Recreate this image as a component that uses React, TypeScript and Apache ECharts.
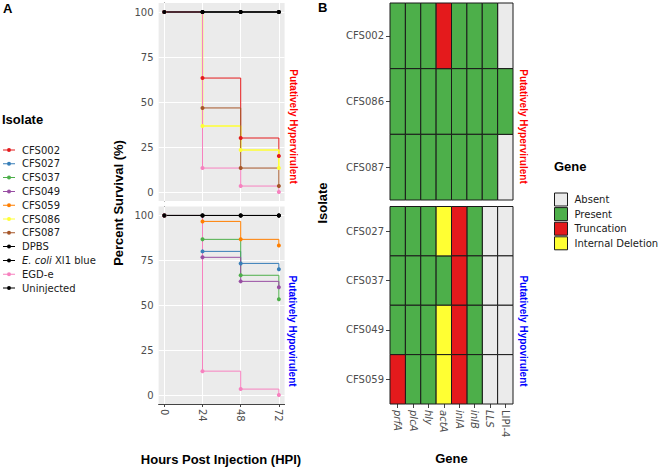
import React, { useEffect, useRef } from 'react';
import * as echarts from 'echarts';

// ---------- Panel A: survival data ----------
const hours = [0, 24, 48, 72];
const hourTicks = [0, 24, 48, 72];
const survivalTicks = [0, 25, 50, 75, 100];

const isolateNames = [
  'CFS002', 'CFS027', 'CFS037', 'CFS049', 'CFS059', 'CFS086', 'CFS087',
  'DPBS', 'E. coli Xl1 blue', 'EGD-e', 'Uninjected',
];
const isolateColors = [
  '#E41A1C', '#377EB8', '#4DAF4A', '#984EA3', '#FF7F00', '#FFFF33', '#A65628',
  '#000000', '#000000', '#F781BF', '#000000',
];

const survCFS002 = [100, 63.3, 30, 20];
const survCFS027 = [100, 80, 73.3, 70];
const survCFS037 = [100, 86.7, 66.7, 53.3];
const survCFS049 = [100, 76.7, 63.3, 60];
const survCFS059 = [100, 96.7, 86.7, 83.3];
const survCFS086 = [100, 36.7, 23.3, 13.3];
const survCFS087 = [100, 46.7, 13.3, 3.3];
const survDPBS = [100, 100, 100, 100];
const survEcoli = [100, 100, 100, 100];
const survEGDe = [100, 13.3, 3.3, 0];
const survUninjected = [100, 100, 100, 100];

const hyperSurvivalMembers = ['CFS002', 'CFS086', 'CFS087', 'DPBS', 'E. coli Xl1 blue', 'EGD-e', 'Uninjected'];
const hypoSurvivalMembers = ['CFS027', 'CFS037', 'CFS049', 'CFS059', 'DPBS', 'E. coli Xl1 blue', 'EGD-e', 'Uninjected'];

// ---------- Panel B: gene status ----------
const genes = ['prfA', 'plcA', 'hly', 'actA', 'inlA', 'inlB', 'LLS', 'LIPI-4'];
const states = ['Absent', 'Present', 'Truncation', 'Internal Deletion'];
const stateColors = ['#EBEBEB', '#4DAF4A', '#E41A1C', '#FFFF33'];

const hyperGeneIsolates = ['CFS002', 'CFS086', 'CFS087'];
const hypoGeneIsolates = ['CFS027', 'CFS037', 'CFS049', 'CFS059'];

const genesCFS002 = ['Present', 'Present', 'Present', 'Truncation', 'Present', 'Present', 'Present', 'Absent'];
const genesCFS086 = ['Present', 'Present', 'Present', 'Present', 'Present', 'Present', 'Present', 'Present'];
const genesCFS087 = ['Present', 'Present', 'Present', 'Present', 'Present', 'Present', 'Present', 'Absent'];
const genesCFS027 = ['Present', 'Present', 'Present', 'Internal Deletion', 'Truncation', 'Present', 'Absent', 'Absent'];
const genesCFS037 = ['Present', 'Present', 'Present', 'Present', 'Truncation', 'Present', 'Absent', 'Absent'];
const genesCFS049 = ['Present', 'Present', 'Present', 'Internal Deletion', 'Truncation', 'Present', 'Absent', 'Absent'];
const genesCFS059 = ['Truncation', 'Present', 'Present', 'Internal Deletion', 'Truncation', 'Present', 'Absent', 'Absent'];

const survivalOf: Record<string, number[]> = {
  CFS002: survCFS002, CFS027: survCFS027, CFS037: survCFS037, CFS049: survCFS049,
  CFS059: survCFS059, CFS086: survCFS086, CFS087: survCFS087, DPBS: survDPBS,
  'E. coli Xl1 blue': survEcoli, 'EGD-e': survEGDe, Uninjected: survUninjected,
};
const genesOf: Record<string, string[]> = {
  CFS002: genesCFS002, CFS086: genesCFS086, CFS087: genesCFS087,
  CFS027: genesCFS027, CFS037: genesCFS037, CFS049: genesCFS049, CFS059: genesCFS059,
};

const TICK_FONT = 'DejaVu Sans';
const TITLE_FONT = 'Liberation Sans';
const TICK_COLOR = '#4D4D4D';
const AXIS_COLOR = '#444444';

export default function App() {
  const ref = useRef<HTMLDivElement>(null);

  useEffect(() => {
    if (!ref.current) return;
    const chart = echarts.init(ref.current, undefined, { renderer: 'svg' });

    const series: any[] = [];

    // gridline helper series (white lines on grey panel)
    [0, 1].forEach((g) => {
      series.push({
        type: 'line',
        name: '__grid' + g,
        xAxisIndex: g,
        yAxisIndex: g,
        data: [],
        silent: true,
        markLine: {
          silent: true,
          z: 1,
          symbol: ['none', 'none'],
          label: { show: false },
          lineStyle: { color: '#FFFFFF', width: 1, type: 'solid' },
          emphasis: { disabled: true },
          data: [
            ...survivalTicks.map((v) => ({ yAxis: v })),
            ...hourTicks.map((v) => ({ xAxis: v })),
          ],
        },
      });
    });

    const panels = [hyperSurvivalMembers, hypoSurvivalMembers];
    panels.forEach((members, g) => {
      isolateNames.forEach((name, i) => {
        if (members.indexOf(name) < 0) return;
        const vals = survivalOf[name];
        series.push({
          type: 'line',
          name,
          xAxisIndex: g,
          yAxisIndex: g,
          step: 'end',
          symbol: 'circle',
          symbolSize: 4,
          showSymbol: true,
          silent: true,
          z: 2,
          lineStyle: { color: isolateColors[i], width: name === 'CFS086' ? 1.6 : 1 },
          itemStyle: { color: isolateColors[i], borderWidth: 0 },
          data: hours.map((h, k) => [h, vals[k]]),
        });
      });
    });

    // heatmap cells via custom series, one per state per panel
    const genePanels = [hyperGeneIsolates, hypoGeneIsolates];
    genePanels.forEach((isos, p) => {
      states.forEach((st, si) => {
        const data: number[][] = [];
        isos.forEach((iso, yi) => {
          genesOf[iso].forEach((s, gi) => {
            if (s === st) data.push([gi, yi]);
          });
        });
        series.push({
          type: 'custom',
          name: st,
          xAxisIndex: 2 + p,
          yAxisIndex: 2 + p,
          silent: true,
          encode: { x: 0, y: 1 },
          itemStyle: { color: stateColors[si] },
          data,
          renderItem: (params: any, api: any) => {
            const c = api.coord([api.value(0), api.value(1)]);
            const s = api.size([1, 1]);
            return {
              type: 'rect',
              shape: { x: c[0] - s[0] / 2, y: c[1] - s[1] / 2, width: s[0], height: s[1] },
              style: { fill: stateColors[si], stroke: '#1A1A1A', lineWidth: 1 },
            };
          },
        });
      });
    });

    const valueYAxis = (g: number) => ({
      type: 'value',
      gridIndex: g,
      min: -5,
      max: 105,
      axisLine: { show: true, lineStyle: { color: AXIS_COLOR, width: 1 } },
      axisTick: { show: true, customValues: survivalTicks, length: 3, lineStyle: { color: AXIS_COLOR } },
      axisLabel: {
        show: true, customValues: survivalTicks, margin: 5,
        fontFamily: TICK_FONT, fontSize: 10, color: TICK_COLOR,
      },
      splitLine: { show: false },
    });

    const option: any = {
      animation: false,
      backgroundColor: '#FFFFFF',
      grid: [
        { left: 158.6, top: 3, width: 126, height: 198, show: true, backgroundColor: '#EBEBEB', borderWidth: 0, outerBoundsMode: 'none' },
        { left: 158.6, top: 206.5, width: 126, height: 197.5, show: true, backgroundColor: '#EBEBEB', borderWidth: 0, outerBoundsMode: 'none' },
        { left: 390, top: 3, width: 123, height: 197, outerBoundsMode: 'none' },
        { left: 390, top: 206.5, width: 123, height: 197.5, outerBoundsMode: 'none' },
      ],
      xAxis: [
        {
          type: 'value', gridIndex: 0, min: -3.6, max: 75.6,
          axisLine: { show: false }, axisTick: { show: false }, axisLabel: { show: false }, splitLine: { show: false },
        },
        {
          type: 'value', gridIndex: 1, min: -3.6, max: 75.6,
          axisLine: { show: true, onZero: false, lineStyle: { color: AXIS_COLOR, width: 1 } },
          axisTick: { show: true, customValues: hourTicks, length: 3, lineStyle: { color: AXIS_COLOR } },
          axisLabel: {
            show: true, customValues: hourTicks, rotate: -90, margin: 5,
            fontFamily: TICK_FONT, fontSize: 10, color: TICK_COLOR,
          },
          splitLine: { show: false },
        },
        {
          type: 'category', gridIndex: 2, data: genes,
          axisLine: { show: false }, axisTick: { show: false }, axisLabel: { show: false }, splitLine: { show: false },
        },
        {
          type: 'category', gridIndex: 3, data: genes,
          axisLine: { show: false },
          axisTick: { show: true, alignWithLabel: true, length: 4, lineStyle: { color: AXIS_COLOR } },
          axisLabel: {
            show: true, rotate: -90, margin: 6, interval: 0,
            fontFamily: TICK_FONT, fontSize: 10, color: TICK_COLOR,
            formatter: (v: string) => (v === 'LIPI-4' ? `{n|${v}}` : `{i|${v}}`),
            rich: {
              i: { fontStyle: 'italic', fontFamily: TICK_FONT, fontSize: 10, color: TICK_COLOR },
              n: { fontStyle: 'normal', fontFamily: TICK_FONT, fontSize: 10, color: TICK_COLOR },
            },
          },
          splitLine: { show: false },
        },
      ],
      yAxis: [
        valueYAxis(0),
        valueYAxis(1),
        {
          type: 'category', gridIndex: 2, data: hyperGeneIsolates, inverse: true,
          axisLine: { show: false },
          axisTick: { show: true, alignWithLabel: true, length: 4, lineStyle: { color: AXIS_COLOR } },
          axisLabel: { show: true, margin: 6, fontFamily: TICK_FONT, fontSize: 10, color: TICK_COLOR },
          splitLine: { show: false },
        },
        {
          type: 'category', gridIndex: 3, data: hypoGeneIsolates, inverse: true,
          axisLine: { show: false },
          axisTick: { show: true, alignWithLabel: true, length: 4, lineStyle: { color: AXIS_COLOR } },
          axisLabel: { show: true, margin: 6, fontFamily: TICK_FONT, fontSize: 10, color: TICK_COLOR },
          splitLine: { show: false },
        },
      ],
      legend: [
        {
          data: isolateNames,
          orient: 'vertical',
          left: 3,
          top: 144,
          padding: 0,
          itemWidth: 12,
          itemHeight: 4,
          itemGap: 1.8,
          selectedMode: false,
          icon: 'path://M0,1.5L12,1.5L12,2.5L0,2.5Z M8,2A2,2,0,1,1,4,2A2,2,0,1,1,8,2Z',
          itemStyle: { borderWidth: 0 },
          textStyle: {
            fontFamily: TICK_FONT, fontSize: 10, color: '#1A1A1A', lineHeight: 12,
            padding: [0, 0, 0, 2],
            rich: { i: { fontStyle: 'italic', fontFamily: TICK_FONT, fontSize: 10, color: '#1A1A1A', lineHeight: 12 } },
          },
          formatter: (name: string) => (name === 'E. coli Xl1 blue' ? '{i|E. coli} Xl1 blue' : name),
        },
        {
          data: states,
          orient: 'vertical',
          left: 554,
          top: 192.5,
          padding: 0,
          itemWidth: 13,
          itemHeight: 13,
          itemGap: 0.6,
          selectedMode: false,
          icon: 'rect',
          itemStyle: { borderColor: '#1A1A1A', borderWidth: 1 },
          textStyle: { fontFamily: TICK_FONT, fontSize: 10, color: '#1A1A1A', padding: [0, 0, 0, 2] },
        },
      ],
      graphic: [
        { type: 'text', x: 3, y: 8, style: { text: 'A', font: `bold 13px "${TITLE_FONT}"`, fill: '#000', verticalAlign: 'middle' } },
        { type: 'text', x: 318, y: 7, style: { text: 'B', font: `bold 13px "${TITLE_FONT}"`, fill: '#000', verticalAlign: 'middle' } },
        { type: 'text', x: 2, y: 119, style: { text: 'Isolate', font: `bold 13px "${TITLE_FONT}"`, fill: '#000', verticalAlign: 'middle' } },
        {
          type: 'text', x: 118, y: 203, rotation: Math.PI / 2,
          style: { text: 'Percent Survival (%)', font: `bold 13px "${TITLE_FONT}"`, fill: '#000', align: 'center', verticalAlign: 'middle' },
        },
        {
          type: 'text', x: 221, y: 459,
          style: { text: 'Hours Post Injection (HPI)', font: `bold 13px "${TITLE_FONT}"`, fill: '#000', align: 'center', verticalAlign: 'middle' },
        },
        {
          type: 'text', x: 322, y: 203, rotation: Math.PI / 2,
          style: { text: 'Isolate', font: `bold 13px "${TITLE_FONT}"`, fill: '#000', align: 'center', verticalAlign: 'middle' },
        },
        {
          type: 'text', x: 451.5, y: 458,
          style: { text: 'Gene', font: `bold 13px "${TITLE_FONT}"`, fill: '#000', align: 'center', verticalAlign: 'middle' },
        },
        { type: 'text', x: 554, y: 166, style: { text: 'Gene', font: `bold 13px "${TITLE_FONT}"`, fill: '#000', verticalAlign: 'middle' } },
        {
          type: 'text', x: 293, y: 126.5, rotation: -Math.PI / 2,
          style: { text: 'Putatively Hypervirulent', font: `bold 10px "${TITLE_FONT}"`, fill: '#FF0000', align: 'center', verticalAlign: 'middle' },
        },
        {
          type: 'text', x: 292.5, y: 331, rotation: -Math.PI / 2,
          style: { text: 'Putatively Hypovirulent', font: `bold 10px "${TITLE_FONT}"`, fill: '#0000FF', align: 'center', verticalAlign: 'middle' },
        },
        {
          type: 'text', x: 523.5, y: 126.5, rotation: -Math.PI / 2,
          style: { text: 'Putatively Hypervirulent', font: `bold 10px "${TITLE_FONT}"`, fill: '#FF0000', align: 'center', verticalAlign: 'middle' },
        },
        {
          type: 'text', x: 523.5, y: 331, rotation: -Math.PI / 2,
          style: { text: 'Putatively Hypovirulent', font: `bold 10px "${TITLE_FONT}"`, fill: '#0000FF', align: 'center', verticalAlign: 'middle' },
        },
      ],
      series,
    };

    chart.setOption(option);
    return () => chart.dispose();
  }, []);

  return (
    <div
      ref={ref}
      style={{ position: 'absolute', left: 0, top: 0, width: 661, height: 468, background: '#fff' }}
    />
  );
}
